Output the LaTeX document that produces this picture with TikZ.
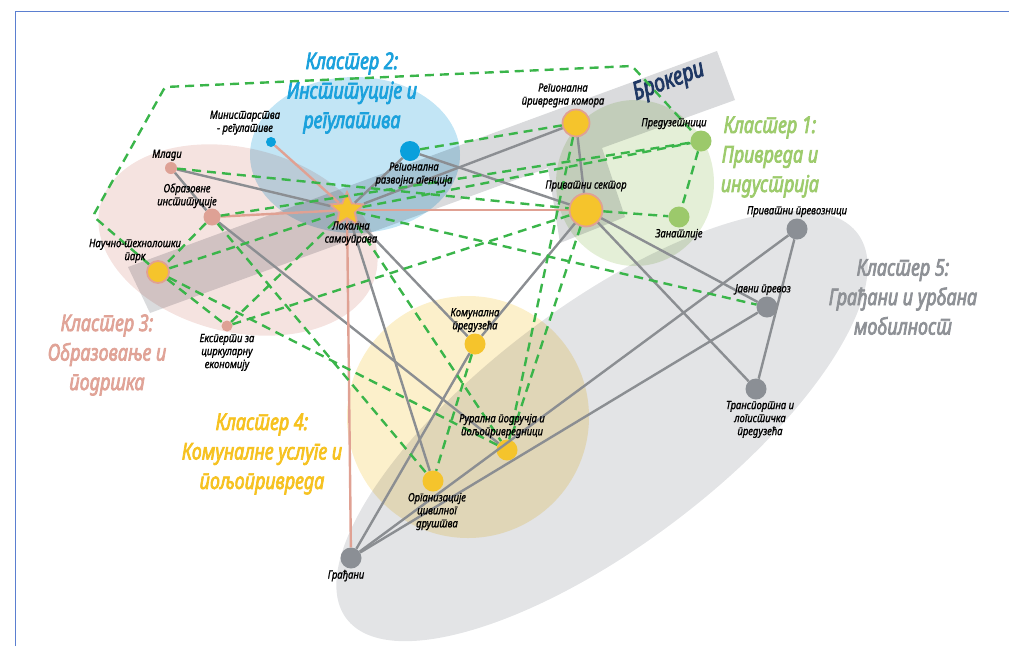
\documentclass[tikz,border=0pt]{standalone}
\usepackage{fontspec}
\setmainfont{Noto Sans}[Script=Cyrillic,Language=Serbian,FakeStretch=0.84]
\newfontfamily\lblfont{Noto Sans}[Script=Cyrillic,Language=Serbian,FakeStretch=0.82,FakeBold=1.2]
\newfontfamily\titlefont{Noto Sans}[Script=Cyrillic,Language=Serbian,FakeStretch=0.78,FakeBold=3]
\usetikzlibrary{positioning,shapes.geometric}

\definecolor{framecol}{HTML}{5B7FD0}
\definecolor{tblue}{HTML}{1BA1DC}
\definecolor{tgreen}{HTML}{9DCB6C}
\definecolor{tgray}{HTML}{8E9196}
\definecolor{tpink}{HTML}{E0A397}
\definecolor{tyellow}{HTML}{F6C221}
\definecolor{tnavy}{HTML}{1F3864}
\definecolor{bgblue}{HTML}{C2E5F5}
\definecolor{bgpink}{HTML}{F5E3E0}
\definecolor{bggreen}{HTML}{E4EFD7}
\definecolor{bgyellow}{HTML}{FCF0CB}
\definecolor{bggray}{HTML}{E3E4E6}
\definecolor{bgband}{HTML}{DADBDD}
\definecolor{nyellow}{HTML}{F5C42C}
\definecolor{npink}{HTML}{DEA195}
\definecolor{nblue}{HTML}{0AA0DC}
\definecolor{ngreen}{HTML}{9CC96B}
\definecolor{ngray}{HTML}{8B8F95}
\definecolor{lgray}{HTML}{8B8E92}
\definecolor{lpink}{HTML}{E0A193}
\definecolor{lgreen}{HTML}{3AB54A}

\tikzset{
  dot/.style={circle, inner sep=0pt, minimum size=#1},
  ylw/.style={dot=#1, fill=nyellow},
  ylwb/.style={dot=#1, fill=nyellow, draw=lpink, line width=1.8pt},
  pnk/.style={dot=#1, fill=npink},
  blu/.style={dot=#1, fill=nblue},
  grn/.style={dot=#1, fill=ngreen},
  gry/.style={dot=#1, fill=ngray},
  lbl/.style={font=\lblfont\fontsize{11.5}{13}\selectfont\itshape, align=center, inner sep=1pt},
  ttl/.style={font=\titlefont\fontsize{23}{29.5}\selectfont\itshape, align=center},
  grayline/.style={line width=2.4pt, draw=lgray},
  pinkline/.style={line width=2.4pt, draw=lpink},
  dashline/.style={line width=2.4pt, draw=lgreen, dash pattern=on 9pt off 6pt},
}

\begin{document}
\begin{tikzpicture}[x=1pt, y=-1pt]
		%%%%% START %%%%%
		\useasboundingbox (0,0) rectangle (1009,646);
		\draw[framecol, line width=0.8pt] (15,646) -- (15,11) -- (1009,11);
		
		% cluster areas
		\begin{scope}[blend mode=multiply]
		\fill[bggray] (602,426) ellipse [x radius=320pt, y radius=120pt, rotate=37];
		\fill[bgyellow] (468,417) circle (121pt);
		\fill[bgpink] (238,240) ellipse [x radius=142pt, y radius=92pt, rotate=-14];
		\fill[bgblue] (355,155) ellipse [x radius=105pt, y radius=78pt];
		\fill[bggreen] (635,183) ellipse [x radius=79pt, y radius=83pt];
		\fill[bgband] (128,267) -- (717,51) -- (735,100) -- (602,148) -- (625,217) -- (560,243) -- (548,168) -- (150,313) -- cycle;
		\end{scope}
		
		% titles
		\node[ttl, text=tblue] (cl2) at (352,93) {Кластер 2:\\Институције и\\регулатива};
		\node[ttl, text=tgreen] (cl1) at (770,157) {Кластер 1:\\Привреда и\\индустрија};
		\node[ttl, text=tgray] (cl5) at (903,297) {Кластер 5:\\Грађани и урбана\\мобилност};
		\node[ttl, text=tpink] (cl3) at (107,355) {Кластер 3:\\Образовање и\\подршка};
		\node[ttl, text=tyellow] (cl4) at (262,454) {Кластер 4:\\Комуналне услуге и\\пољопривреда};
		\node[ttl, text=tnavy, rotate=20, font=\titlefont\fontsize{25}{29}\selectfont\itshape] (brok) at (669,82) {Брокери};
		
		% actors
		\node[blu=10pt] (min) at (271,142) {};
		\node[pnk=12pt] (mladi) at (171,168) {};
		\node[pnk=17pt] (obraz) at (212,217) {};
		\node[ylwb=22pt] (ntp) at (158,272) {};
		\node[pnk=11pt] (eksp) at (227,326) {};
		\node[star, star points=5, star point ratio=2.2, minimum size=36pt, inner sep=0pt,
		      fill=nyellow, draw=lpink, line width=1.8pt] (lsg) at (347,210) {};
		\node[blu=20pt] (rra) at (410,151) {};
		\node[ylwb=27pt] (rpk) at (576,123) {};
		\node[ylwb=33pt] (ps) at (586,210) {};
		\node[grn=21pt] (pred) at (701,141) {};
		\node[grn=21pt] (zanat) at (679,217) {};
		\node[gry=21pt] (ppre) at (797,229) {};
		\node[gry=21pt] (javni) at (767,307) {};
		\node[gry=21pt] (transp) at (756,389) {};
		\node[ylw=21pt] (kom) at (475,344) {};
		\node[ylw=21pt] (rural) at (507,450) {};
		\node[ylw=21pt] (ocd) at (433,481) {};
		\node[gry=21pt] (gradj) at (351,558) {};
		
		% formal ties
		\draw[grayline] (mladi) -- (lsg);
		\draw[grayline] (mladi) -- (obraz);
		\draw[grayline] (obraz) -- (rural);
		\draw[grayline] (lsg) -- (rra);
		\draw[grayline] (lsg) -- (rpk);
		\draw[grayline] (rra) -- (ps);
		\draw[grayline] (rpk) -- (ps);
		\draw[grayline] (lsg) -- (ocd);
		\draw[grayline] (lsg) -- (kom);
		\draw[grayline] (ps) -- (kom);
		\draw[grayline] (kom) -- (gradj);
		\draw[grayline] (ps) -- (javni);
		\draw[grayline] (ps) -- (transp);
		\draw[grayline] (ppre) -- (transp);
		\draw[grayline] (ppre) -- (gradj);
		\draw[grayline] (javni) -- (gradj);
		
		\draw[pinkline] (min) -- (lsg);
		\draw[pinkline] (obraz) -- (lsg);
		\draw[pinkline] (lsg) -- (ps);
		\draw[pinkline] (lsg) -- (gradj);
		
		% informal ties
		\coordinate (lp1) at (93,216);
		\coordinate (lp2) at (165,87);
		\coordinate (lp3) at (632,66);
		\draw[dashline, rounded corners=3pt] (ntp) -- (lp1) -- (lp2) -- (lp3) -- (pred);
		\draw[dashline] (mladi) -- (ps);
		\draw[dashline] (ntp) -- (lsg);
		\draw[dashline] (ntp) -- (eksp);
		\draw[dashline] (ntp) -- (rural);
		\draw[dashline] (obraz) -- (ntp);
		\draw[dashline] (obraz) -- (ocd);
		\draw[dashline] (obraz) -- (pred);
		\draw[dashline] (lsg) -- (pred);
		\draw[dashline] (eksp) -- (lsg);
		\draw[dashline] (eksp) -- (ps);
		\draw[dashline] (rra) -- (rpk);
		\draw[dashline] (rpk) -- (rural);
		\draw[dashline] (ps) -- (rural);
		\draw[dashline] (ps) -- (zanat);
		\draw[dashline] (pred) -- (zanat);
		\draw[dashline] (lsg) -- (rural);
		\draw[dashline] (lsg) -- (javni);
		\draw[dashline] (kom) -- (ocd);
		
		% labels
		\node[lbl, above=1pt of min, xshift=-26pt] (min-t) {Министарства\\- регулативе};
		\node[lbl, above=0pt of mladi, xshift=-4pt] (mladi-t) {Млади};
		\node[lbl, above=-1pt of obraz, xshift=-25pt] (obraz-t) {Образовне\\институције};
		\node[lbl, above=-4pt of ntp, xshift=-23pt] (ntp-t) {Научно-технолошки\\парк};
		\node[lbl, below=1pt of eksp] (eksp-t) {Експерти за\\циркуларну\\економију};
		\node[lbl, below=1pt of lsg, xshift=4pt] (lsg-t) {Локална\\самоуправа};
		\node[lbl, below=0pt of rra, xshift=4pt] (rra-t) {Регионална\\развојна агенција};
		\node[lbl, above=0pt of rpk, xshift=-13pt] (rpk-t) {Регионална\\привредна комора};
		\node[lbl, above=0pt of ps] (ps-t) {Приватни сектор};
		\node[lbl, above=0pt of pred, xshift=-27pt] (pred-t) {Предузетници};
		\node[lbl, below=0pt of zanat] (zanat-t) {Занатлије};
		\node[lbl, above=0pt of ppre] (ppre-t) {Приватни превозници};
		\node[lbl, above=0pt of javni, xshift=-4pt] (javni-t) {Јавни превоз};
		\node[lbl, below=0pt of transp, xshift=4pt] (transp-t) {Транспортна и\\логистичка\\предузећа};
		\node[lbl, above=0pt of kom] (kom-t) {Комунална\\предузећа};
		\node[lbl, above=0pt of rural, xshift=-5pt] (rural-t) {Рурална подручја и\\пољопривредници};
		\node[lbl, below=0pt of ocd, xshift=4pt] (ocd-t) {Организације\\цивилног\\друштва};
		\node[lbl, below=0pt of gradj, xshift=-5pt] (gradj-t) {Грађани};
		
		%%%%% END %%%%%
	\end{tikzpicture}
\end{document}
